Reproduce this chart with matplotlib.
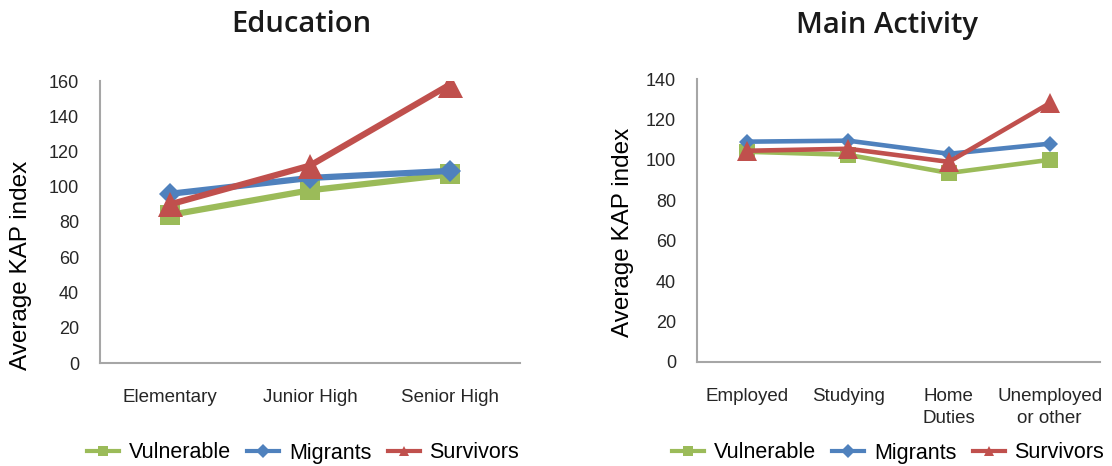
import matplotlib
matplotlib.use("Agg")
import matplotlib.pyplot as plt
from matplotlib.lines import Line2D

plt.rcParams["font.family"] = ["Liberation Sans", "DejaVu Sans"]

# ---------------------------------
# Data
# ---------------------------------
education = ["Elementary", "Junior High", "Senior High"]
edu_vulnerable = [84, 98, 107]
edu_migrants = [96, 105, 109]
edu_survivors = [90, 112, 158]

activity = ["Employed", "Studying", "Home\nDuties", "Unemployed\nor other"]
act_vulnerable = [104, 102.5, 93.5, 100]
act_migrants = [109, 109.5, 103, 108]
act_survivors = [104.5, 105.5, 99, 128]

series_names = ["Vulnerable", "Migrants", "Survivors"]
colors = ["#9BBB59", "#4F81BD", "#C0504D"]
markers = ["s", "D", "^"]

W, H = 1112, 466
fig = plt.figure(figsize=(W / 100, H / 100), dpi=100)

def box(x0, y0, x1, y1):
    return [x0 / W, 1 - y1 / H, (x1 - x0) / W, (y1 - y0) / H]

ax1 = fig.add_axes(box(100, 81, 520, 363))
ax2 = fig.add_axes(box(697, 79, 1100, 362))

def draw(ax, cats, values, ymax, lw, msizes):
    x = range(len(cats))
    for vals, c, m, ms in zip(values, colors, markers, msizes):
        ax.plot(x, vals, color=c, lw=lw, marker=m, markersize=ms,
                markeredgewidth=0, solid_joinstyle="miter")
    ax.set_xlim(-0.5, len(cats) - 0.5)
    ax.set_ylim(0, ymax)
    ax.set_yticks(range(0, ymax + 1, 20))
    ax.set_xticks(list(x))
    ax.set_xticklabels(cats, linespacing=1.35)
    for s in ["top", "right"]:
        ax.spines[s].set_visible(False)
    for s in ["left", "bottom"]:
        ax.spines[s].set_color("#A6A6A6")
        ax.spines[s].set_linewidth(1.5)
    ax.tick_params(axis="y", length=0, pad=15, labelsize=13, colors="#262626")
    ax.tick_params(axis="x", length=0, pad=19, labelsize=13.5, colors="#262626")

draw(ax1, education, [edu_vulnerable, edu_migrants, edu_survivors],
     160, 4.5, [14, 11, 18])
draw(ax2, activity, [act_vulnerable, act_migrants, act_survivors],
     140, 3.3, [11, 8.5, 14])

# titles and axis labels
title_font = dict(family=["Open Sans", "DejaVu Sans"], weight="semibold",
                  fontsize=21, color="#1a1a1a", ha="center", va="center")
fig.text(301 / W, 1 - 25 / H, "Education", **title_font)
fig.text(887 / W, 1 - 25 / H, "Main Activity", **title_font)

fig.text(21 / W, 1 - 265 / H, "Average KAP index", rotation=90,
         fontsize=17.5, ha="center", va="center", color="black")
fig.text(623 / W, 1 - 232 / H, "Average KAP index", rotation=90,
         fontsize=17.5, ha="center", va="center", color="black")

# legends
handles = [Line2D([], [], color=c, lw=3, marker=m, markersize=7.5, markeredgewidth=0)
           for c, m in zip(colors, markers)]
for cx in (303, 888):
    fig.legend(handles, series_names, loc="center",
               bbox_to_anchor=(cx / W, 1 - 453 / H), ncol=3, frameon=False,
               fontsize=15.5, handlelength=1.5, handletextpad=0.45,
               columnspacing=0.75, borderaxespad=0, borderpad=0)

fig.savefig("out.png", dpi=100)
